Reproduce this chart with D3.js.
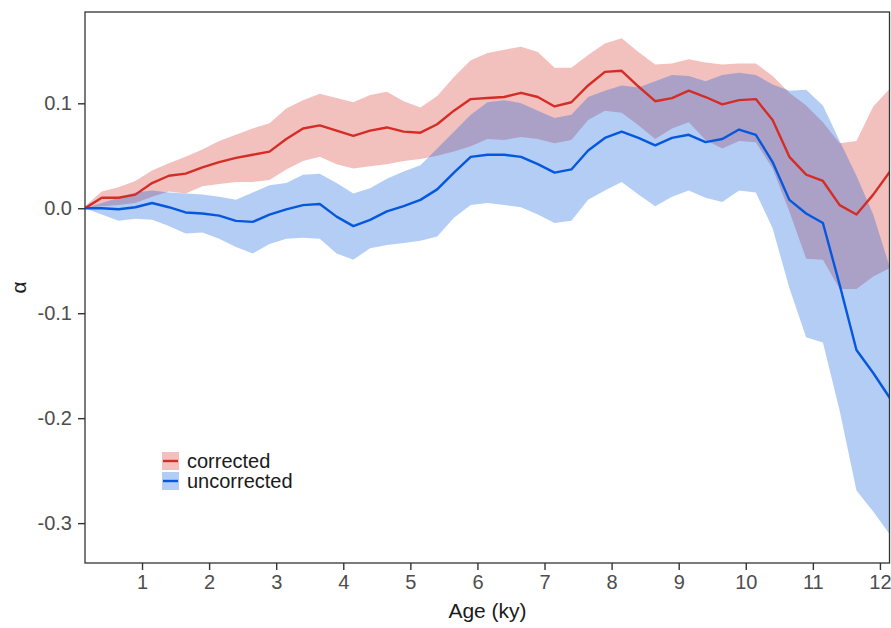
<!DOCTYPE html>
<html lang="en">
<head>
    <meta charset="utf-8">
    <title>Alpha vs age</title>
    <script src="https://d3js.org/d3.v7.js"></script>
    <style>
        body { margin: 0; background: #fff; }
        svg { font-family: "Liberation Sans", Arial, sans-serif; }
        .tick text { fill: #4d4d4d; font-size: 20px; }
        .tick line { stroke: #333; stroke-width: 1.4px; }
        .domain { display: none; }
    </style>
</head>
<body>
<svg width="891" height="628"></svg>
<script type="text/javascript">
    // ages (ky) and the two series
    const ages = [0.15, 0.40, 0.65, 0.90, 1.15, 1.40, 1.65, 1.90, 2.15, 2.40, 2.65, 2.90, 3.15, 3.40, 3.65, 3.90,
        4.15, 4.40, 4.65, 4.90, 5.15, 5.40, 5.65, 5.90, 6.15, 6.40, 6.65, 6.90, 7.15, 7.40, 7.65, 7.90,
        8.15, 8.40, 8.65, 8.90, 9.15, 9.40, 9.65, 9.90, 10.15, 10.40, 10.65, 10.90, 11.15, 11.40, 11.65, 11.90, 12.15];

    const corrMean = [0.000, 0.010, 0.010, 0.013, 0.024, 0.031, 0.033, 0.039, 0.044, 0.048, 0.051, 0.054, 0.066, 0.076, 0.079, 0.074,
        0.069, 0.074, 0.077, 0.073, 0.072, 0.080, 0.093, 0.104, 0.105, 0.106, 0.110, 0.106, 0.097, 0.101, 0.117, 0.130,
        0.131, 0.116, 0.102, 0.105, 0.112, 0.106, 0.099, 0.103, 0.104, 0.084, 0.049, 0.032, 0.026, 0.003, -0.006, 0.013, 0.035];
    const corrUpper = [0.002, 0.016, 0.020, 0.026, 0.036, 0.043, 0.049, 0.056, 0.064, 0.070, 0.076, 0.081, 0.095, 0.103, 0.109, 0.105,
        0.101, 0.108, 0.111, 0.102, 0.096, 0.107, 0.125, 0.141, 0.148, 0.151, 0.154, 0.149, 0.134, 0.134, 0.146, 0.157,
        0.162, 0.149, 0.137, 0.138, 0.142, 0.139, 0.137, 0.138, 0.138, 0.126, 0.110, 0.098, 0.082, 0.062, 0.064, 0.097, 0.114];
    const corrLower = [0.000, 0.002, 0.003, 0.005, 0.011, 0.016, 0.014, 0.021, 0.023, 0.025, 0.025, 0.027, 0.037, 0.045, 0.049, 0.042,
        0.038, 0.040, 0.042, 0.045, 0.047, 0.050, 0.054, 0.059, 0.066, 0.065, 0.068, 0.066, 0.062, 0.065, 0.084, 0.093,
        0.091, 0.079, 0.066, 0.076, 0.082, 0.065, 0.057, 0.064, 0.063, 0.038, -0.003, -0.048, -0.049, -0.077, -0.077, -0.065, -0.057];

    const uncMean = [0.000, 0.000, -0.001, 0.001, 0.005, 0.001, -0.004, -0.005, -0.007, -0.012, -0.013, -0.006, -0.001, 0.003, 0.004, -0.008,
        -0.017, -0.011, -0.003, 0.002, 0.008, 0.018, 0.034, 0.049, 0.051, 0.051, 0.049, 0.042, 0.034, 0.037, 0.055, 0.067,
        0.073, 0.067, 0.060, 0.067, 0.070, 0.063, 0.066, 0.075, 0.070, 0.044, 0.008, -0.005, -0.014, -0.073, -0.135, -0.157, -0.181];
    const uncUpper = [0.000, 0.005, 0.010, 0.015, 0.017, 0.015, 0.014, 0.013, 0.011, 0.008, 0.015, 0.022, 0.024, 0.032, 0.033, 0.024,
        0.014, 0.019, 0.028, 0.035, 0.041, 0.057, 0.073, 0.089, 0.101, 0.103, 0.100, 0.093, 0.086, 0.089, 0.106, 0.112,
        0.117, 0.115, 0.121, 0.127, 0.126, 0.121, 0.127, 0.129, 0.127, 0.118, 0.112, 0.113, 0.098, 0.064, 0.031, -0.006, -0.057];
    const uncLower = [0.000, -0.006, -0.012, -0.010, -0.011, -0.017, -0.024, -0.023, -0.029, -0.037, -0.043, -0.034, -0.029, -0.028, -0.029, -0.043,
        -0.049, -0.038, -0.035, -0.033, -0.031, -0.027, -0.009, 0.003, 0.005, 0.003, 0.001, -0.006, -0.014, -0.012, 0.008, 0.017,
        0.025, 0.013, 0.002, 0.011, 0.017, 0.010, 0.006, 0.017, 0.015, -0.019, -0.076, -0.123, -0.128, -0.193, -0.269, -0.289, -0.311];

    const xTicks = [1, 2, 3, 4, 5, 6, 7, 8, 9, 10, 11, 12];
    const yTicks = [-0.3, -0.2, -0.1, 0.0, 0.1];
    const seriesNames = ["corrected", "uncorrected"];
    const seriesColors = ["#d42d26", "#0558de"];

    const svg = d3.select("svg");
    const margin = {left: 85, top: 12, right: 1, bottom: 65};
    const width = +svg.attr("width"), height = +svg.attr("height");

    const x = d3.scaleLinear().domain([0.15, 12.15]).range([margin.left, width - margin.right]);
    const y = d3.scaleLinear().domain([-0.338, 0.187]).range([height - margin.bottom, margin.top]);

    // one table per series, built from the arrays above
    const series = [
        {name: seriesNames[0], color: seriesColors[0],
            rows: ages.map((a, i) => ({age: a, mean: corrMean[i], lo: corrLower[i], hi: corrUpper[i]}))},
        {name: seriesNames[1], color: seriesColors[1],
            rows: ages.map((a, i) => ({age: a, mean: uncMean[i], lo: uncLower[i], hi: uncUpper[i]}))}
    ];

    svg.append("clipPath").attr("id", "panel")
        .append("rect")
        .attr("x", margin.left).attr("y", margin.top)
        .attr("width", width - margin.left - margin.right)
        .attr("height", height - margin.top - margin.bottom);

    const plot = svg.append("g").attr("clip-path", "url(#panel)");

    let area = d3.area()
        .x(d => x(d.age))
        .y0(d => y(d.lo))
        .y1(d => y(d.hi));

    let line = d3.line()
        .x(d => x(d.age))
        .y(d => y(d.mean));

    plot.selectAll("path.band")
        .data(series)
        .join("path")
        .attr("class", "band")
        .attr("d", d => area(d.rows))
        .attr("fill", d => d.color)
        .attr("fill-opacity", 0.3);

    plot.selectAll("path.mean")
        .data(series)
        .join("path")
        .attr("class", "mean")
        .attr("d", d => line(d.rows))
        .attr("fill", "none")
        .attr("stroke", d => d.color)
        .attr("stroke-width", 2.4)
        .attr("stroke-linejoin", "round");

    // axes
    svg.append("g")
        .attr("transform", `translate(0,${height - margin.bottom})`)
        .call(d3.axisBottom(x).tickValues(xTicks).tickSize(7).tickPadding(5).tickFormat(d3.format("d")));

    svg.append("g")
        .attr("transform", `translate(${margin.left},0)`)
        .call(d3.axisLeft(y).tickValues(yTicks).tickSize(7).tickPadding(6).tickFormat(d => d.toFixed(1)));

    // panel border
    svg.append("rect")
        .attr("x", margin.left).attr("y", margin.top)
        .attr("width", width - margin.left - margin.right - 0.5)
        .attr("height", height - margin.top - margin.bottom)
        .attr("fill", "none")
        .attr("stroke", "#333")
        .attr("stroke-width", 1.3);

    svg.append("text")
        .attr("x", (margin.left + width - margin.right) / 2)
        .attr("y", 618)
        .attr("text-anchor", "middle")
        .style("font-size", "21px")
        .style("fill", "#1a1a1a")
        .text("Age (ky)");

    svg.append("text")
        .attr("transform", `translate(26,${(margin.top + height - margin.bottom) / 2}) rotate(-90)`)
        .attr("text-anchor", "middle")
        .style("font-size", "21px")
        .style("fill", "#1a1a1a")
        .text("α");

    // legend
    const legend = svg.append("g").attr("transform", "translate(162,452)");
    const item = legend.selectAll("g")
        .data(series)
        .join("g")
        .attr("transform", (d, i) => `translate(0,${i * 20})`);
    item.append("rect")
        .attr("width", 17).attr("height", 18)
        .attr("fill", d => d.color)
        .attr("fill-opacity", 0.3);
    item.append("line")
        .attr("x1", 1).attr("x2", 16)
        .attr("y1", 9).attr("y2", 9)
        .attr("stroke", d => d.color)
        .attr("stroke-width", 2.4);
    item.append("text")
        .attr("x", 25).attr("y", 16)
        .style("font-size", "20px")
        .style("fill", "#1a1a1a")
        .text(d => d.name);
</script>
</body>
</html>
